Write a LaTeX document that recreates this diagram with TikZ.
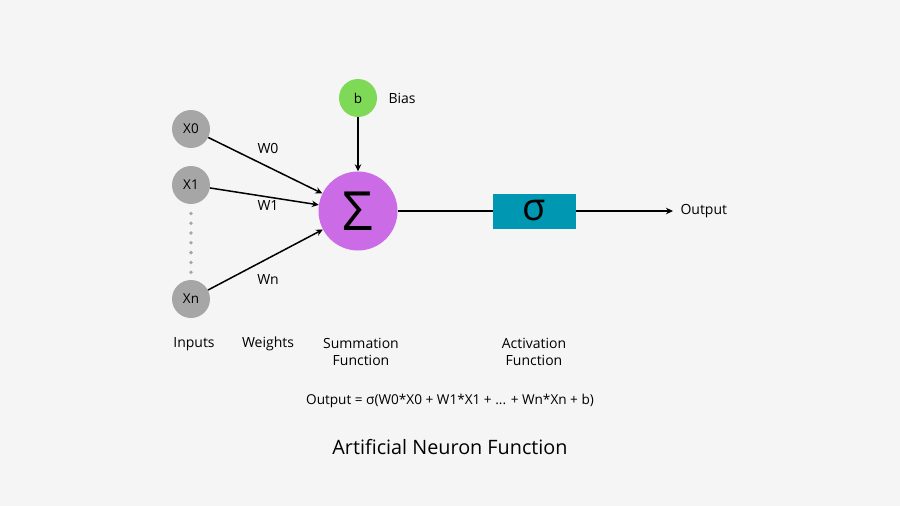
\documentclass[tikz,border=0pt]{standalone}
\usepackage{fontspec}
\setmainfont{Open Sans}
\usetikzlibrary{arrows.meta}
\definecolor{bg}{HTML}{F5F5F5}
\definecolor{ingray}{HTML}{A6A6A6}
\definecolor{biasgreen}{HTML}{7ED957}
\definecolor{sumpurple}{HTML}{CB6CE6}
\definecolor{actblue}{HTML}{0097B2}
\tikzset{
  inputnode/.style={circle, fill=ingray, minimum size=38pt, inner sep=0pt, font=\fontsize{13.5}{15}\selectfont},
  conn/.style={line width=1.5pt, -{Stealth[length=7pt,width=6.5pt]}},
  lbl/.style={font=\fontsize{14}{16}\selectfont, align=center},
}
\begin{document}
\begin{tikzpicture}[x=1pt,y=-1pt]
\fill[bg] (0,0) rectangle (900,506);
\useasboundingbox (0,0) rectangle (900,506);
\node[inputnode] (x0) at (191,129) {X0};
\node[inputnode] (x1) at (191,185) {X1};
\node[inputnode] (xn) at (191,299) {Xn};
\coordinate (d1) at (191,213.5);
\coordinate (d2) at (191,272.2);
\draw[ingray, line width=3.8pt, line cap=round, dash pattern=on 0pt off 9.78pt] (d1) -- (d2);
\node[circle, fill=biasgreen, minimum size=38pt, inner sep=0pt, font=\fontsize{13.5}{15}\selectfont] (b) at (358,98) {b};
\node[lbl, anchor=west] (bias) at (385,98) {Bias};
\node[circle, fill=sumpurple, minimum size=79pt, inner sep=0pt, font=\fontsize{54}{58}\selectfont] (sum) at (358,211) {\raisebox{-2pt}{Σ}};
\node[rectangle, fill=actblue, minimum width=83pt, minimum height=35pt, inner sep=0pt, font=\fontsize{38}{42}\selectfont] (act) at (534.5,211) {\raisebox{2pt}{σ}};
\coordinate (out) at (673,211);
\node[lbl, anchor=west] (outlbl) at (677,211) {Output};
\draw[conn] (x0) -- (sum);
\draw[conn] (x1) -- (sum);
\draw[conn] (xn) -- (sum);
\draw[conn] (b) -- (sum);
\draw[line width=1.5pt] (sum) -- (act);
\draw[conn] (act) -- (out);
\node[lbl] (w0) at (268,148) {W0};
\node[lbl] (w1) at (268,206) {W1};
\node[lbl] (wn) at (268,279) {Wn};
\node[lbl] (inputs) at (194,344) {Inputs};
\node[lbl] (weights) at (268,344) {Weights};
\node[lbl, font=\fontsize{14}{16.5}\selectfont] (sumf) at (361,352) {Summation\\Function};
\node[lbl, font=\fontsize{14}{16.5}\selectfont] (actf) at (534,352) {Activation\\Function};
\node[lbl, font=\fontsize{13.6}{15}\selectfont] (formula) at (450,401) {Output = σ(W0*X0 + W1*X1 + ... + Wn*Xn + b)};
\node[font=\fontsize{19.8}{23}\selectfont] (title) at (450,447) {Artificial Neuron Function};
\end{tikzpicture}
\end{document}
